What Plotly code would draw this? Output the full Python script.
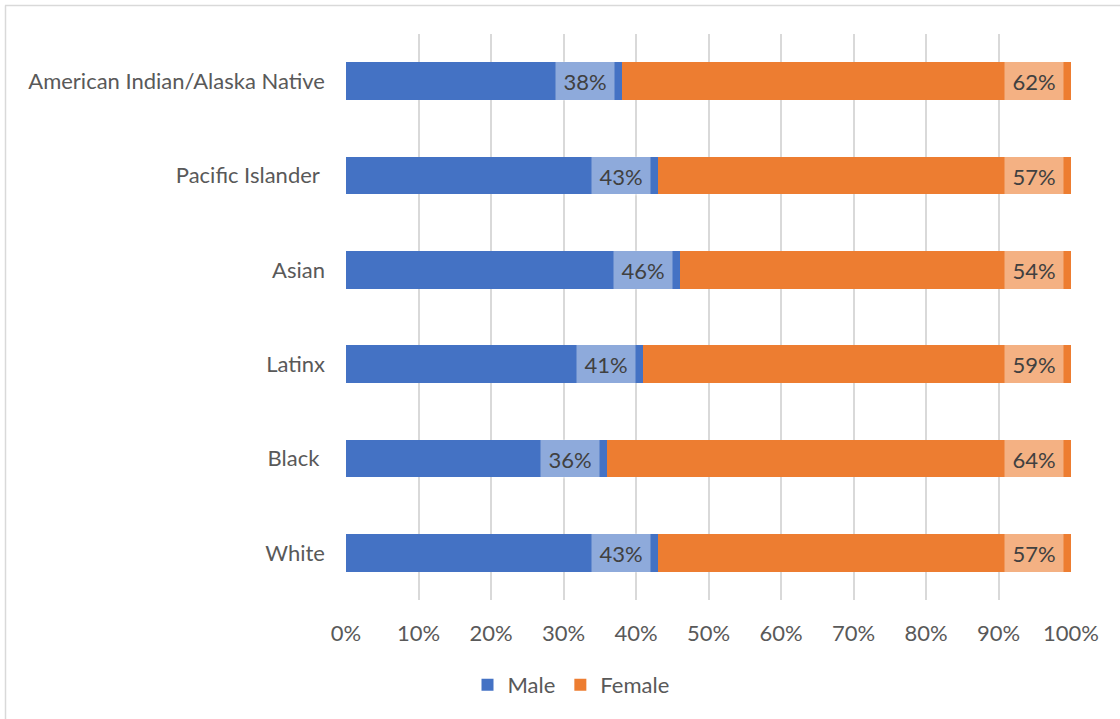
import plotly.graph_objects as go

categories = ["White", "Black\u00a0", "Latinx", "Asian", "Pacific Islander\u00a0", "American Indian/Alaska Native"]
male = [43, 36, 41, 46, 43, 38]
female = [57, 64, 59, 54, 57, 62]
x_ticks = list(range(0, 101, 10))
x_tick_labels = [f"{v}%" for v in x_ticks]

BLUE = "#4472C4"
ORANGE = "#ED7D31"
FONT = "Lato"
FS = 22

fig = go.Figure()
fig.add_trace(go.Bar(y=categories, x=male, name="Male", orientation="h",
                     marker=dict(color=BLUE, line=dict(width=0)), hoverinfo="skip"))
fig.add_trace(go.Bar(y=categories, x=female, name="Female", orientation="h",
                     marker=dict(color=ORANGE, line=dict(width=0)), hoverinfo="skip"))

annotations = []
for cat, m, f in zip(categories, male, female):
    for end, val in ((m, m), (m + f, f)):
        annotations.append(dict(
            x=end, y=cat, xref="x", yref="y", text=f"{val}%",
            showarrow=False, xanchor="right", yanchor="middle", xshift=-7,
            width=58, height=38, bgcolor="rgba(255,255,255,0.4)", borderpad=0,
            font=dict(family=FONT, size=FS, color="#404040"),
        ))

W, H = 1120, 719
L, R, T, B = 346, 1071, 34, 600
pw, ph = R - L, B - T
def px(x): return (x - L) / pw
def py(y): return (B - y) / ph

shapes = [
    dict(type="line", xref="paper", yref="paper", x0=px(5.5), x1=px(5.5), y0=py(5.5), y1=py(725),
         line=dict(color="#D9D9D9", width=1.5)),
    dict(type="line", xref="paper", yref="paper", x0=px(5), x1=px(1125), y0=py(5.5), y1=py(5.5),
         line=dict(color="#D9D9D9", width=1.5)),
]

fig.update_layout(
    width=W, height=H,
    margin=dict(l=L, r=W - R, t=T, b=H - B),
    barmode="stack", bargap=0.6,
    plot_bgcolor="white", paper_bgcolor="white",
    font=dict(family=FONT, size=FS, color="#595959"),
    annotations=annotations, shapes=shapes,
    legend=dict(orientation="h", x=px(571), y=py(685), xanchor="center", yanchor="middle",
                font=dict(family=FONT, size=FS, color="#595959"), traceorder="normal",
                itemclick=False, itemwidth=30),
    xaxis=dict(range=[0, 100], tickvals=x_ticks, ticktext=x_tick_labels, showgrid=True,
               gridcolor="#D9D9D9", gridwidth=1.5, zeroline=False, showline=False,
               ticks="", ticklabelstandoff=18, fixedrange=True),
    yaxis=dict(categoryorder="array", categoryarray=categories, showgrid=False, zeroline=False,
               showline=False, ticks="", ticklabelstandoff=20, fixedrange=True),
)

fig.write_html("out.html", config={"displayModeBar": False})
